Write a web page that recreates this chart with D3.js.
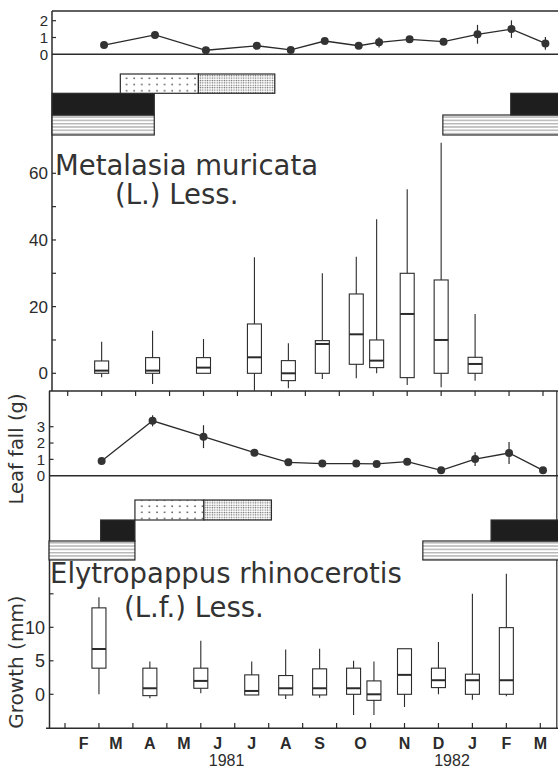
<!DOCTYPE html>
<html><head><meta charset="utf-8">
<script src="https://cdn.jsdelivr.net/npm/d3@7"></script>
<style>html,body{margin:0;padding:0;background:#fff;}svg{display:block;}</style>
</head><body><div id="chart"></div>
<script>
// ---------- DATA ----------
// sampling positions in months after 1 Feb 1981
const sampleT = [1, 2.5, 4, 5.5, 6.5, 7.5, 8.5, 9.1, 10, 11, 12, 13, 14];
// Metalasia leaf fall (g)
const metLeafMean = [0.55, 1.15, 0.24, 0.51, 0.26, 0.79, 0.51, 0.71, 0.89, 0.75, 1.19, 1.5, 0.65];
const metLeafErr  = [0, 0.2, 0, 0, 0, 0, 0, 0.3, 0, 0, 0.56, 0.52, 0.38];
// Metalasia growth boxes [min, q1, median, q3, max] (mm)
const metBoxes = [
  [-1.2, 0, 0.8, 3.7, 9.5],
  [-3.2, 0, 0.8, 4.7, 12.8],
  [0, 0, 1.7, 4.7, 10.3],
  [-5.2, 0, 4.8, 14.8, 34.8],
  [-4.5, -2.2, 0, 3.8, 9],
  [-1.7, 0, 8.8, 9.8, 30],
  [-1.5, 2.7, 11.7, 23.8, 35],
  [0, 1.7, 3.8, 10, 46.2],
  [-3.5, -1.3, 17.8, 30, 55.2],
  [-4.2, 0, 10, 28, 69.2],
  [-2.2, 0, 2.8, 4.8, 17.8]
];
// Elytropappus leaf fall (g)
const elyLeafMean = [0.9, 3.36, 2.39, 1.41, 0.82, 0.74, 0.74, 0.72, 0.86, 0.33, 1.02, 1.39, 0.33];
const elyLeafErr  = [0, 0.34, 0.7, 0, 0.2, 0.15, 0, 0, 0, 0, 0.42, 0.68, 0];
// Elytropappus growth boxes
const elyBoxes = [
  [0, 3.9, 6.76, 12.9, 14.5],
  [-0.6, -0.2, 0.9, 3.9, 4.9],
  [0.15, 0.9, 2.0, 3.9, 8.0],
  [-0.1, -0.1, 0.5, 2.9, 4.9],
  [-0.7, -0.1, 0.9, 2.8, 6.7],
  [-0.5, -0.1, 0.9, 3.8, 6.8],
  [-3.1, 0, 0.9, 3.9, 5.0],
  [-3.1, -0.9, 0, 2.0, 4.9],
  [-1.9, 0, 2.9, 6.8, 6.8],
  [0, 1.0, 2.1, 3.9, 7.8],
  [-0.8, 0, 2.1, 3.0, 15],
  [-0.3, 0, 2.1, 9.95, 18]
];
// phenology bars [start, end] in months
const metPhenSparse = [[1.55, 3.85]];
const metPhenDense  = [[3.85, 6.1]];
const metPhenBlack  = [[-0.46, 2.55], [13.05, 15.5]];
const metPhenStripe = [[-0.46, 2.55], [11.05, 15.5]];
const elyPhenSparse = [[2.06, 4.09]];
const elyPhenDense  = [[4.09, 6.08]];
const elyPhenBlack  = [[1.05, 2.06], [12.55, 15.5]];
const elyPhenStripe = [[-0.47, 2.06], [10.54, 15.5]];
// axis labels
const monthLabels = ["F","M","A","M","J","J","A","S","O","N","D","J","F","M"];
const monthLabelT = [0.55, 1.5, 2.5, 3.5, 4.5, 5.5, 6.5, 7.5, 8.7, 10, 11, 12, 13, 14];
const yearLabels = ["1981", "1982"];
const yearLabelT = [4.76, 11.4];
const monthTicks = d3.range(0, 15);
const topTicks = [0, 1, 2];
const metTicks = [0, 20, 40, 60];
const metMinorTicks = [0, 10, 20, 30, 40, 50, 60];
const elyLeafTicks = [0, 1, 2, 3];
const elyTicks = [0, 5, 10];
const elyMinorTicks = [0, 5, 10, 15];

// ---------- SETUP ----------
const W = 558, H = 771;
const INK = "#2b2b2b";
const FONT = "'Liberation Sans', Arial, Helvetica, sans-serif";
const TFONT = "'DejaVu Sans', 'Liberation Sans', sans-serif";
const svg = d3.select("#chart").append("svg").attr("width", W).attr("height", H)
  .style("font-family", FONT);

const defs = svg.append("defs");
const pS = defs.append("pattern").attr("id","stripe").attr("patternUnits","userSpaceOnUse")
  .attr("width",6).attr("height",3.3);
pS.append("rect").attr("width",6).attr("height",3.3).attr("fill","#fff");
pS.append("line").attr("x1",0).attr("x2",6).attr("y1",1.6).attr("y2",1.6).attr("stroke","#555").attr("stroke-width",0.7);
const pD = defs.append("pattern").attr("id","sparse").attr("patternUnits","userSpaceOnUse")
  .attr("width",7.6).attr("height",6.2).attr("x",3).attr("y",2);
pD.append("rect").attr("width",7.6).attr("height",6.2).attr("fill","#fff");
pD.append("circle").attr("cx",2).attr("cy",2).attr("r",0.8).attr("fill","#444");
const pF = defs.append("pattern").attr("id","dense").attr("patternUnits","userSpaceOnUse")
  .attr("width",2.4).attr("height",2.4);
pF.append("rect").attr("width",2.4).attr("height",2.4).attr("fill","#fff");
pF.append("circle").attr("cx",1.2).attr("cy",1.2).attr("r",0.7).attr("fill","#666");

// x scales (months after 1 Feb 1981), three slightly offset figure pieces
const PX = 33.95;
const xTop = d3.scaleLinear().domain([0, 15]).range([70.1, 70.1 + 15 * PX]);
const xMid = d3.scaleLinear().domain([0, 15]).range([67.7, 67.7 + 15 * PX]);
const xBot = d3.scaleLinear().domain([0, 15]).range([65, 65 + 15 * PX]);

// y scales
const yTop = d3.scaleLinear().domain([0, 2]).range([54.3, 20.7]);
const yMet = d3.scaleLinear().domain([0, 60]).range([373.3, 173.3]);
const yEL  = d3.scaleLinear().domain([0, 3]).range([475.7, 426.7]);
const yEly = d3.scaleLinear().domain([0, 10]).range([694.3, 627.3]);

function hline(y, x1, x2, w) {
  svg.append("line").attr("x1", x1).attr("x2", x2).attr("y1", y).attr("y2", y)
    .attr("stroke", INK).attr("stroke-width", w || 1.5);
}
function vline(x, y1, y2, w) {
  svg.append("line").attr("x1", x).attr("x2", x).attr("y1", y1).attr("y2", y2)
    .attr("stroke", INK).attr("stroke-width", w || 1.5);
}

// ---------- FRAMES ----------
hline(11, 52, W);
hline(54.3, 52, W);
vline(52, 11, 391);
hline(391, 49, W);
hline(475.7, 49, W);
vline(49.5, 391, 728.5);
hline(728.3, 46, W);
vline(556.8, 391, 728.3, 1.2);

// tick marks
function yTicks(scale, vals, x0, len) {
  svg.append("g").selectAll("line").data(vals).join("line")
    .attr("x1", x0).attr("x2", x0 + len).attr("y1", d => scale(d)).attr("y2", d => scale(d))
    .attr("stroke", INK).attr("stroke-width", 1.2);
}
function yLabels(scale, vals, xr, fs) {
  svg.append("g").selectAll("text").data(vals).join("text")
    .attr("x", xr).attr("y", d => scale(d)).attr("dy", "0.36em")
    .attr("text-anchor", "end").attr("font-size", fs).attr("fill", INK).text(d => d);
}
yTicks(yTop, [1, 2], 52, 4);
yLabels(yTop, topTicks, 48, 15);
yTicks(yMet, metMinorTicks, 52, 4);
yLabels(yMet, metTicks, 48, 17);
yTicks(yEL, elyLeafTicks.slice(1), 49.5, 4);
yLabels(yEL, elyLeafTicks, 45, 15);
yTicks(yEly, elyMinorTicks, 49.5, 4);
yLabels(yEly, elyTicks, 45, 18);

// x ticks: down from y=391 (middle scale), up from bottom axis (bottom scale)
svg.append("g").selectAll("line").data(monthTicks).join("line")
  .attr("x1", d => xMid(d)).attr("x2", d => xMid(d)).attr("y1", 391).attr("y2", 396)
  .attr("stroke", INK).attr("stroke-width", 1.2);
svg.append("g").selectAll("line").data(monthTicks).join("line")
  .attr("x1", d => xBot(d)).attr("x2", d => xBot(d)).attr("y1", 728.3).attr("y2", 723)
  .attr("stroke", INK).attr("stroke-width", 1.2);

// month & year labels
svg.append("g").selectAll("text").data(monthLabels).join("text")
  .attr("x", (d, i) => xBot(monthLabelT[i])).attr("y", 749)
  .attr("text-anchor", "middle").attr("font-size", 16).attr("font-weight", "bold")
  .attr("fill", INK).text(d => d);
svg.append("g").selectAll("text").data(yearLabels).join("text")
  .attr("x", (d, i) => xBot(yearLabelT[i])).attr("y", 766)
  .attr("text-anchor", "middle").attr("font-size", 16).attr("fill", INK).text(d => d);

// ---------- PHENOLOGY ----------
function phen(data, x, y0, y1, fill) {
  svg.append("g").selectAll("rect").data(data).join("rect")
    .attr("x", d => x(d[0])).attr("width", d => x(d[1]) - x(d[0]))
    .attr("y", y0).attr("height", y1 - y0)
    .attr("fill", fill).attr("stroke", INK).attr("stroke-width", 1.2);
}
phen(metPhenStripe, xMid, 115, 135, "url(#stripe)");
phen(metPhenBlack, xMid, 93.3, 115, "#1e1e1e");
phen(metPhenSparse, xMid, 74, 93.3, "url(#sparse)");
phen(metPhenDense, xMid, 74, 93.3, "url(#dense)");
phen(elyPhenStripe, xBot, 541, 560, "url(#stripe)");
phen(elyPhenBlack, xBot, 520, 541, "#1e1e1e");
phen(elyPhenSparse, xBot, 500, 520, "url(#sparse)");
phen(elyPhenDense, xBot, 500, 520, "url(#dense)");

// ---------- TITLES ----------
function title(txt, x, y) {
  svg.append("text").attr("x", x).attr("y", y).attr("font-size", 27.5)
    .style("font-family", TFONT).attr("fill", "#333").text(txt);
}
title("Metalasia muricata", 55, 175);
title("(L.) Less.", 115, 204);
title("Elytropappus rhinocerotis", 50, 583);
title("(L.f.) Less.", 124, 617);

// axis titles
svg.append("text").attr("transform", "translate(23,449) rotate(-90)")
  .attr("text-anchor", "middle").attr("font-size", 19.5).style("font-family", TFONT)
  .attr("fill", "#333").text("Leaf fall (g)");
svg.append("text").attr("transform", "translate(23,662) rotate(-90)")
  .attr("text-anchor", "middle").attr("font-size", 20).style("font-family", TFONT)
  .attr("fill", "#333").text("Growth (mm)");

// ---------- LINE CHARTS ----------
function lineChart(x, y, means, errs) {
  const pts = sampleT.map((t, i) => [t, means[i], errs[i]]);
  const g = svg.append("g");
  g.selectAll("line.err").data(pts.filter(d => d[2] > 0)).join("line")
    .attr("x1", d => x(d[0])).attr("x2", d => x(d[0]))
    .attr("y1", d => y(d[1] - d[2])).attr("y2", d => y(d[1] + d[2]))
    .attr("stroke", INK).attr("stroke-width", 1.2);
  g.append("path").datum(pts)
    .attr("d", d3.line().x(d => x(d[0])).y(d => y(d[1])))
    .attr("fill", "none").attr("stroke", INK).attr("stroke-width", 1.3);
  g.selectAll("circle").data(pts).join("circle")
    .attr("cx", d => x(d[0])).attr("cy", d => y(d[1])).attr("r", 4)
    .attr("fill", "#333");
}
lineChart(xTop, yTop, metLeafMean, metLeafErr);
lineChart(xMid, yEL, elyLeafMean, elyLeafErr);

// ---------- BOX PLOTS ----------
function boxes(x, y, data, bw) {
  const g = svg.append("g");
  const d2 = data.map((b, i) => ({ t: sampleT[i], b }));
  g.selectAll("line.w").data(d2).join("line")
    .attr("x1", d => x(d.t)).attr("x2", d => x(d.t))
    .attr("y1", d => y(d.b[0])).attr("y2", d => y(d.b[4]))
    .attr("stroke", INK).attr("stroke-width", 1.1);
  g.selectAll("rect").data(d2).join("rect")
    .attr("x", d => x(d.t) - bw / 2).attr("width", bw)
    .attr("y", d => y(d.b[3])).attr("height", d => y(d.b[1]) - y(d.b[3]))
    .attr("fill", "#fff").attr("stroke", INK).attr("stroke-width", 1.1);
  g.selectAll("line.m").data(d2).join("line")
    .attr("x1", d => x(d.t) - bw / 2).attr("x2", d => x(d.t) + bw / 2)
    .attr("y1", d => y(d.b[2])).attr("y2", d => y(d.b[2]))
    .attr("stroke", INK).attr("stroke-width", 2);
}
boxes(xMid, yMet, metBoxes, 14);
boxes(xBot, yEly, elyBoxes, 14);
</script></body></html>
